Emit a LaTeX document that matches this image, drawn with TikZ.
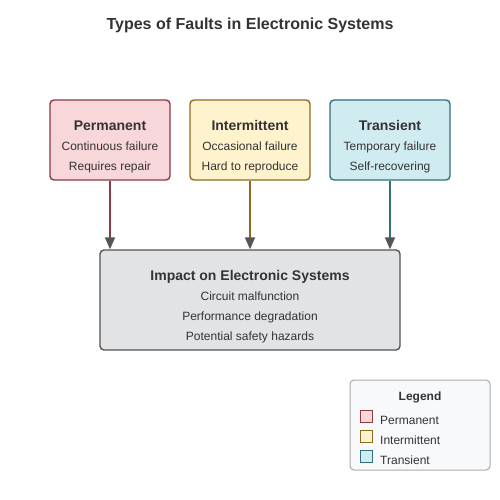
\documentclass[tikz,border=0pt]{standalone}
\usepackage{fontspec}
\setmainfont{Liberation Sans}
\usetikzlibrary{arrows.meta, positioning}
\definecolor{txt}{HTML}{333333}
\definecolor{permfill}{HTML}{F8D7DA}
\definecolor{permline}{HTML}{8B3A4A}
\definecolor{intfill}{HTML}{FFF3CD}
\definecolor{intline}{HTML}{8C6D1F}
\definecolor{tranfill}{HTML}{D1ECF1}
\definecolor{tranline}{HTML}{31707D}
\definecolor{impfill}{HTML}{E2E3E5}
\definecolor{impline}{HTML}{555555}
\definecolor{legfill}{HTML}{F8F9FA}
\definecolor{legline}{HTML}{AAAAAA}
\tikzset{
every node/.style={text=txt, inner sep=0pt},
fault/.style={draw, line width=1.4pt, rounded corners=4pt, minimum width=120pt, minimum height=80pt},
head/.style={anchor=base, font=\fontsize{14}{16}\selectfont\bfseries},
body/.style={anchor=base, font=\fontsize{12}{14}\selectfont},
swatch/.style={draw, line width=1pt, minimum size=12pt},
link/.style={line width=1.6pt, -{Triangle[length=12pt, width=10pt, fill=impline, color=impline]}},
}

\begin{document}
\begin{tikzpicture}[x=1pt, y=-1pt]
    \useasboundingbox[fill=white] (0,0) rectangle (500,500);
    \node[anchor=base, font=\fontsize{16}{19}\selectfont\bfseries] (title) at (250,30) {Types of Faults in Electronic Systems};

    % fault boxes
    \node[fault, fill=permfill, draw=permline] (perm) at (110,140) {};
    \node[fault, fill=intfill, draw=intline] (int) at (250,140) {};
    \node[fault, fill=tranfill, draw=tranline] (tran) at (390,140) {};
    \node[head] (permh) at (110,130) {Permanent};
    \node[body] (perm1) at (110,150) {Continuous failure};
    \node[body] (perm2) at (110,170) {Requires repair};
    \node[head] (inth) at (250,130) {Intermittent};
    \node[body] (int1) at (250,150) {Occasional failure};
    \node[body] (int2) at (250,170) {Hard to reproduce};
    \node[head] (tranh) at (390,130) {Transient};
    \node[body] (tran1) at (390,150) {Temporary failure};
    \node[body] (tran2) at (390,170) {Self-recovering};

    % impact
    \node[fault, fill=impfill, draw=impline, minimum width=300pt, minimum height=100pt] (imp) at (250,300) {};
    \node[head] (imph) at (250,280) {Impact on Electronic Systems};
    \node[body] (imp1) at (250,300) {Circuit malfunction};
    \node[body] (imp2) at (250,320) {Performance degradation};
    \node[body] (imp3) at (250,340) {Potential safety hazards};

    \draw[link, permline] (perm.south) -- (perm.south |- imp.north);
    \draw[link, intline] (int.south) -- (int.south |- imp.north);
    \draw[link, tranline] (tran.south) -- (tran.south |- imp.north);

    % legend
    \node[draw=legline, fill=legfill, line width=1pt, rounded corners=4pt, minimum width=140pt, minimum height=90pt] (leg) at (420,425) {};
    \node[anchor=base, font=\fontsize{12}{14}\selectfont\bfseries] (legh) at (420,400) {Legend};
    \node[swatch, fill=permfill, draw=permline] (sw1) at (366,416) {};
    \node[swatch, fill=intfill, draw=intline] (sw2) at (366,436) {};
    \node[swatch, fill=tranfill, draw=tranline] (sw3) at (366,456) {};
    \node[body, anchor=base west] (lg1) at (380,424) {Permanent};
    \node[body, anchor=base west] (lg2) at (380,444) {Intermittent};
    \node[body, anchor=base west] (lg3) at (380,464) {Transient};
\end{tikzpicture}
\end{document}
